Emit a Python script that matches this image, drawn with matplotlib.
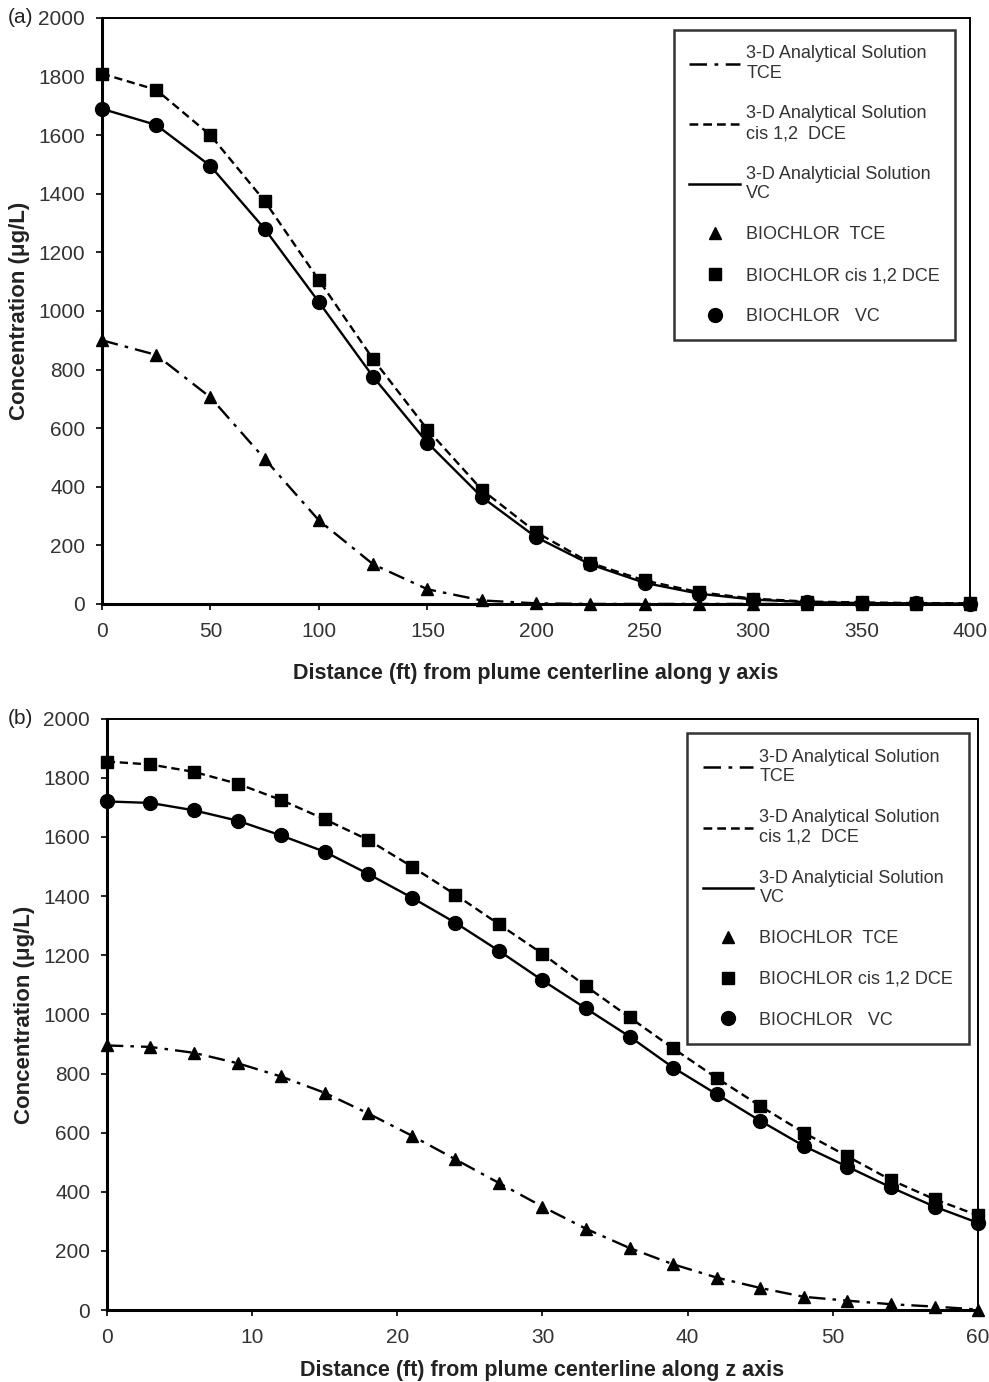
import matplotlib.pyplot as plt
from matplotlib.lines import Line2D

plt.rcParams['font.family'] = ['Liberation Sans', 'DejaVu Sans']

# Panel (a): distance along y axis (ft)
dist_y = [0, 25, 50, 75, 100, 125, 150, 175, 200, 225, 250, 275, 300, 325, 350, 375, 400]
tce_a = [900, 850, 705, 495, 285, 135, 50, 12, 2, 0, 0, 0, 0, 0, 0, 0, 0]
dce_a = [1810, 1755, 1600, 1375, 1105, 835, 595, 390, 245, 140, 80, 40, 18, 8, 5, 3, 2]
vc_a = [1690, 1635, 1495, 1280, 1030, 775, 550, 365, 228, 135, 72, 35, 15, 6, 3, 2, 1]

# Panel (b): distance along z axis (ft)
dist_z = [0, 3, 6, 9, 12, 15, 18, 21, 24, 27, 30, 33, 36, 39, 42, 45, 48, 51, 54, 57, 60]
tce_b = [895, 890, 870, 835, 790, 735, 665, 590, 510, 430, 350, 275, 210, 155, 110, 75,
         45, 32, 20, 12, 2]
dce_b = [1855, 1845, 1820, 1780, 1725, 1660, 1590, 1500, 1405, 1305, 1205, 1095, 990,
         885, 785, 690, 600, 520, 440, 375, 320]
vc_b = [1720, 1715, 1690, 1655, 1605, 1550, 1475, 1395, 1310, 1215, 1115, 1020, 925,
        820, 730, 640, 555, 485, 415, 350, 295]

legend_labels = ['3-D Analytical Solution\nTCE', '3-D Analytical Solution\ncis 1,2  DCE',
                 '3-D Analyticial Solution\nVC', 'BIOCHLOR  TCE', 'BIOCHLOR cis 1,2 DCE',
                 'BIOCHLOR   VC']

fig = plt.figure(figsize=(9.89, 13.82), dpi=100)
ax_a = fig.add_axes([0.103, 0.563, 0.878, 0.424])
ax_b = fig.add_axes([0.108, 0.052, 0.881, 0.428])

DASHDOT = (0, (7, 3, 1.5, 3))
DASHED = (0, (3.5, 2))


def draw_panel(ax, x, tce, dce, vc, xmax, xstep, xlabel, xlabelpad, leg_anchor):
    ax.plot(x, tce, color='black', lw=1.7, linestyle=DASHDOT)
    ax.plot(x, dce, color='black', lw=1.7, linestyle=DASHED)
    ax.plot(x, vc, color='black', lw=1.7, linestyle='-')
    ax.plot(x, tce, '^', color='black', ms=8, clip_on=False)
    ax.plot(x, dce, 's', color='black', ms=8, clip_on=False)
    ax.plot(x, vc, 'o', color='black', ms=10, clip_on=False)

    ax.set_xlim(0, xmax)
    ax.set_ylim(0, 2000)
    ax.set_xticks(range(0, xmax + 1, xstep))
    ax.set_yticks(range(0, 2001, 200))
    ax.tick_params(labelsize=15, labelcolor='#333333', length=4, width=1.2)
    ax.tick_params(axis='x', pad=9)
    ax.tick_params(axis='y', pad=8)
    for s in ax.spines.values():
        s.set_linewidth(1.4)
    ax.spines['left'].set_linewidth(2.2)
    ax.spines['bottom'].set_linewidth(2.2)
    ax.set_ylabel('Concentration (\u03bcg/L)', fontsize=16, fontweight='bold',
                  color='#222222', labelpad=6)
    ax.set_xlabel(xlabel, fontsize=15.5, fontweight='bold', color='#222222',
                  labelpad=xlabelpad)

    handles = [
        Line2D([], [], color='black', lw=1.8, linestyle=DASHDOT),
        Line2D([], [], color='black', lw=1.8, linestyle=DASHED),
        Line2D([], [], color='black', lw=1.8, linestyle='-'),
        Line2D([], [], color='black', marker='^', ms=8, linestyle='none'),
        Line2D([], [], color='black', marker='s', ms=8, linestyle='none'),
        Line2D([], [], color='black', marker='o', ms=10, linestyle='none'),
    ]
    leg = ax.legend(handles, legend_labels, loc='upper right', bbox_to_anchor=leg_anchor,
                    borderaxespad=0, fontsize=13, frameon=True, fancybox=False,
                    handlelength=2.8, labelspacing=1.32, borderpad=0.85,
                    handletextpad=0.35)
    leg.get_frame().set_edgecolor('black')
    leg.get_frame().set_linewidth(1.8)
    leg.set_zorder(5)
    for t in leg.get_texts():
        t.set_color('#333333')


draw_panel(ax_a, dist_y, tce_a, dce_a, vc_a, 400, 50,
           'Distance (ft) from plume centerline along y axis', 16, (0.983, 0.98))
draw_panel(ax_b, dist_z, tce_b, dce_b, vc_b, 60, 10,
           'Distance (ft) from plume centerline along z axis', 9, (0.989, 0.975))

fig.text(0.008, 0.987, '(a)', fontsize=15, color='#222222', va='center')
fig.text(0.008, 0.480, '(b)', fontsize=15, color='#222222', va='center')

fig.savefig('out.png', dpi=100)
